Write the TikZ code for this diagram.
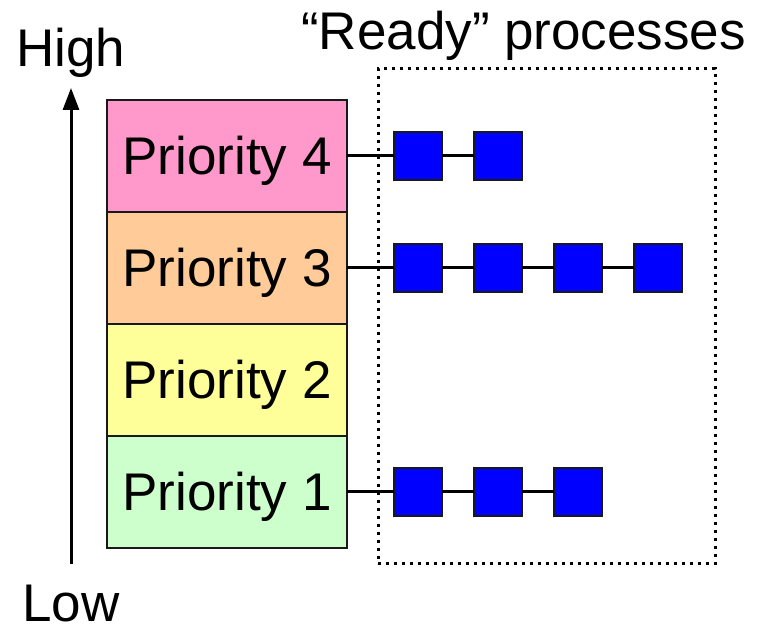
\documentclass[tikz,border=0pt]{standalone}
\usepackage{fontspec}
\setmainfont{Liberation Sans}
\usepackage{xcolor}
\usepackage{tikz}
\usetikzlibrary{positioning,arrows.meta}

\definecolor{prio4}{HTML}{FF99CC}
\definecolor{prio3}{HTML}{FFCC99}
\definecolor{prio2}{HTML}{FFFF99}
\definecolor{prio1}{HTML}{CCFFCC}

\begin{document}
\begin{tikzpicture}[x=1pt,y=1pt,
every node/.style={font=\fontsize{53}{63}\selectfont},
prio/.style={rectangle,draw=black!90,line width=2pt,outer sep=0pt,
minimum width=240pt,minimum height=112pt,inner sep=0pt,
text height=38pt,text depth=0pt},
proc/.style={rectangle,draw=black!90,fill=blue,line width=2pt,outer sep=0pt,
inner sep=0pt,minimum size=48pt},
link/.style={line width=3pt}]
\useasboundingbox (0,0) rectangle (759,628);
% queue levels
\node[prio,fill=prio4] (p4) at (227,472) {Priority 4};
\node[prio,fill=prio3] (p3) [below=0pt of p4] {Priority 3};
\node[prio,fill=prio2] (p2) [below=0pt of p3] {Priority 2};
\node[prio,fill=prio1] (p1) [below=0pt of p2] {Priority 1};
% priority axis
\coordinate (low end) at (71,64);
\coordinate (high end) at (71,540);
\draw [line width=3pt,-{Triangle[length=22pt,width=16pt]}] (low end) -- (high end);
\node[anchor=base west,inner sep=0pt] (high) at (16,561) {High};
\node[anchor=base west,inner sep=0pt] (low) at (22,6) {Low};
% ready list
\node[draw,line width=3pt,dash pattern=on 3pt off 5pt,inner sep=0pt,
minimum width=337pt,minimum height=495pt] (ready) at (546.5,311.5) {};
\node[anchor=base west,inner sep=0pt] (title) at (301,578) {“Ready” processes};
\node[proc] (q4a) [right=47pt of p4] {};
\node[proc] (q4b) [right=32pt of q4a] {};
\node[proc] (q3a) [right=47pt of p3] {};
\node[proc] (q3b) [right=32pt of q3a] {};
\node[proc] (q3c) [right=32pt of q3b] {};
\node[proc] (q3d) [right=32pt of q3c] {};
\node[proc] (q1a) [right=47pt of p1] {};
\node[proc] (q1b) [right=32pt of q1a] {};
\node[proc] (q1c) [right=32pt of q1b] {};
\draw [link] (p4) -- (q4a) -- (q4b);
\draw [link] (p3) -- (q3a) -- (q3b) -- (q3c) -- (q3d);
\draw [link] (p1) -- (q1a) -- (q1b) -- (q1c);
\end{tikzpicture}
\end{document}
